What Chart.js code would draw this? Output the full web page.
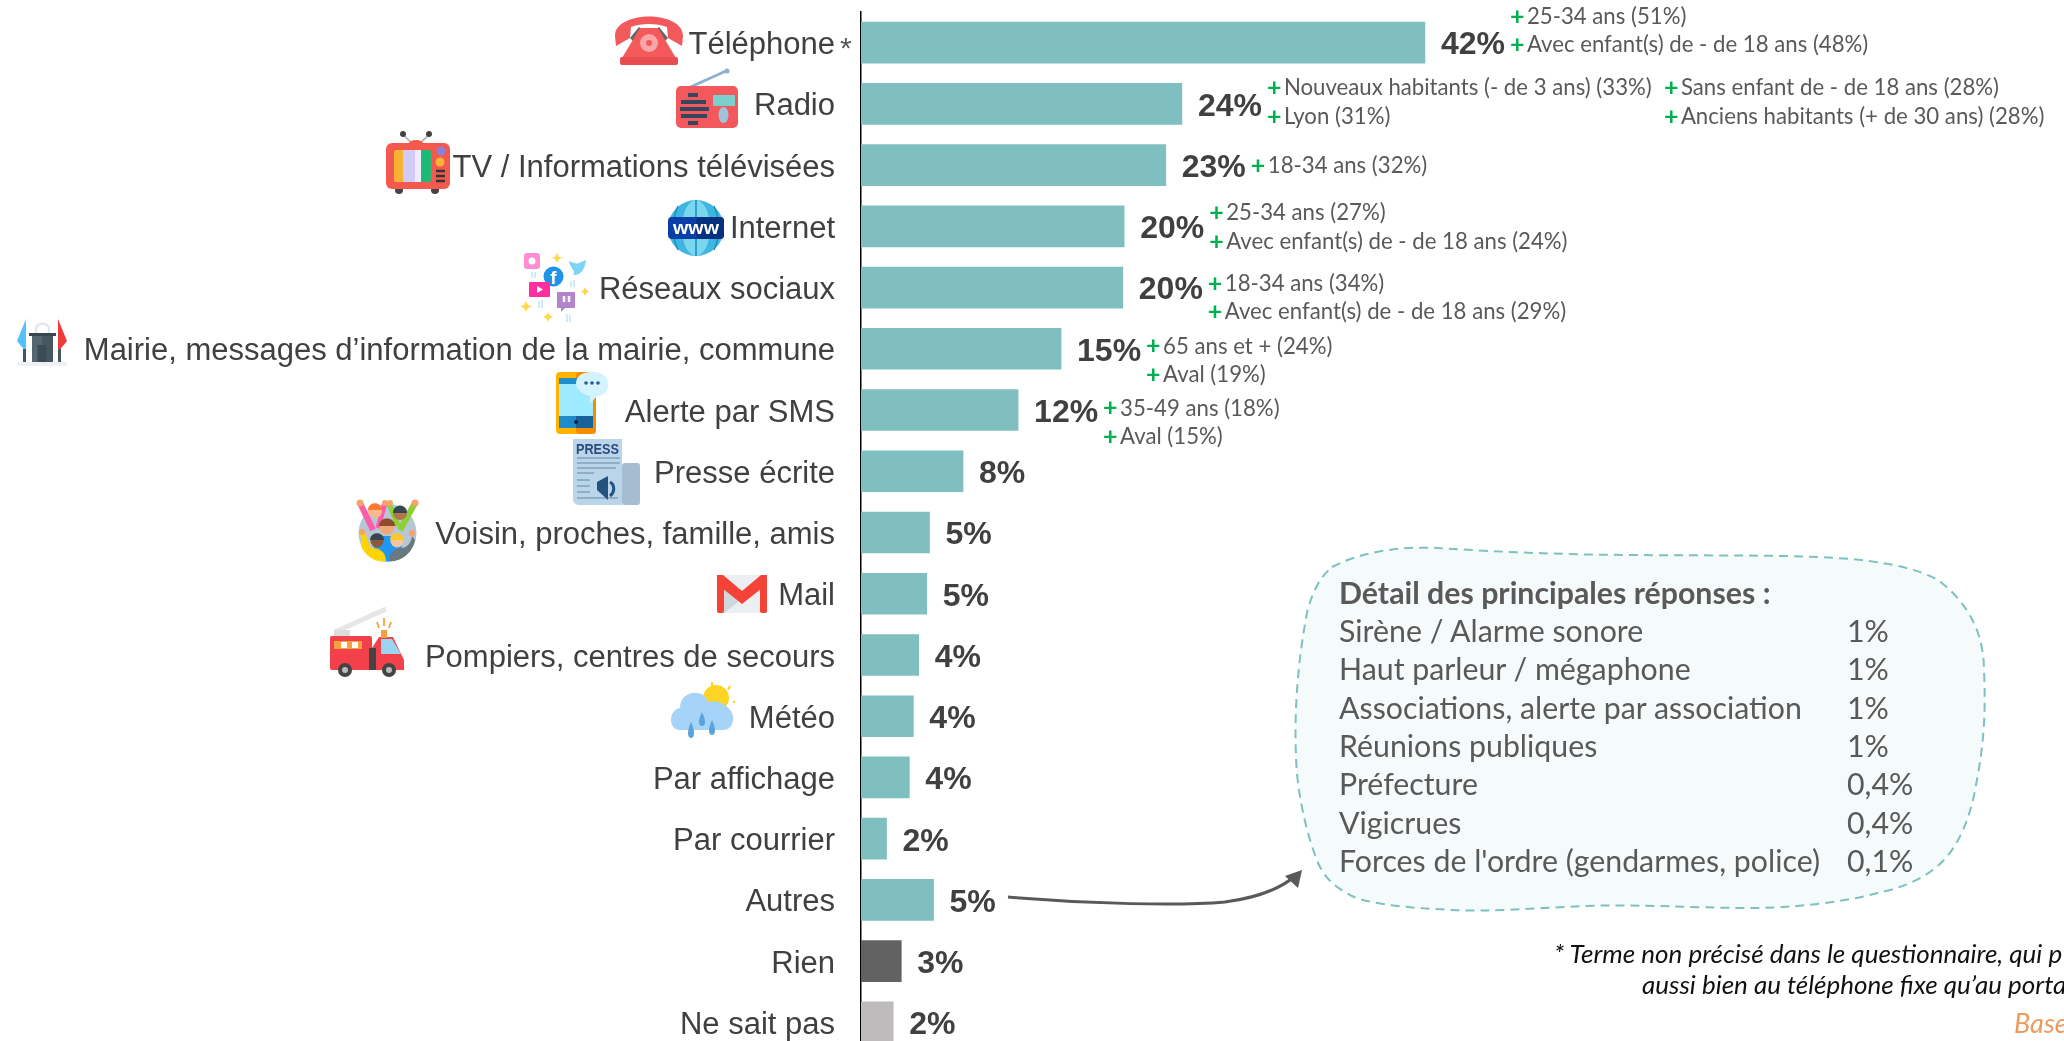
<!DOCTYPE html>
<html lang="fr">
<head>
<meta charset="utf-8">
<title>Moyens d'information</title>
<script src="https://cdn.jsdelivr.net/npm/chart.js@4"></script>
<style>
    html, body { margin: 0; padding: 0; background: #fff; width: 2064px; height: 1041px; overflow: hidden; }
    #chart { position: absolute; left: 0; top: 0; }
    #overlay { position: absolute; left: 0; top: 0; }
    #overlay text { font-family: Lato, sans-serif; }
</style>
</head>
<body>
<canvas id="chart" width="2064" height="1053"></canvas>
<svg id="overlay" width="2064" height="1041" viewBox="0 0 2064 1041" xmlns="http://www.w3.org/2000/svg">
    <!-- encadre de detail -->
    <path d="M1332 567 C1360 552 1400 546 1437 548 C1500 552 1570 555 1641 555 C1720 556 1800 554 1861 560 C1895 564 1920 570 1938 580 C1965 600 1984 630 1984 670 C1986 710 1984 745 1976 785 C1970 820 1958 845 1944 860 C1925 880 1900 888 1878 893 C1840 903 1790 908 1751 908 C1690 908 1640 904 1586 906 C1540 908 1490 912 1453 910 C1410 908 1375 905 1354 897 C1335 888 1325 878 1318 863 C1305 830 1297 790 1296 757 C1294 710 1298 660 1307 613 C1312 592 1320 577 1332 567 Z"
          fill="#F5FAFA" stroke="#7FC0C0" stroke-width="2" stroke-dasharray="9 6"/>
    <g id="detail"></g>
    <!-- fleche -->
    <path d="M1008 897 C1090 904 1180 906 1225 902 C1255 898 1280 889 1295 876" fill="none" stroke="#595959" stroke-width="3"/>
    <polygon points="1302,870 1298,888 1285,876" fill="#595959"/>
    <!-- notes -->
    <text x="1554" y="963" font-size="26" font-style="italic" fill="#111">* Terme non précisé dans le questionnaire, qui p</text>
    <text x="1642" y="994" font-size="26" font-style="italic" fill="#111">aussi bien au téléphone fixe qu’au porta</text>
    <text x="2014" y="1033" font-size="27" font-style="italic" fill="#EE9A5C">Base</text>

    <!-- Telephone -->
    <g transform="translate(615 16)">
        <path d="M0 20 C0 -6 68 -6 68 20 L67 30 L53 22 L52 11 C42 7 26 7 16 11 L15 22 L1 30 Z" fill="#F2595C"/>
        <path d="M15 22 L24 11 L27 13 L19 26 Z M53 22 L44 11 L41 13 L49 26 Z" fill="#666"/>
        <path d="M25 12 H43 L61 42 H7 Z" fill="#F4595C"/>
        <circle cx="34" cy="27" r="9" fill="#F9A6A8"/><circle cx="34" cy="27" r="3" fill="#F4595C"/>
        <rect x="5" y="41" width="58" height="8" rx="2" fill="#E84D50"/>
    </g>
    <!-- Radio -->
    <g transform="translate(676 68)">
        <path d="M10 21 L50 3" stroke="#8FB0CF" stroke-width="3"/><circle cx="51" cy="3" r="2.5" fill="#8FB0CF"/>
        <rect x="0" y="18" width="62" height="42" rx="5" fill="#F2595C"/>
        <path d="M12 27 H22 M5 34 H30 M4 41 H33 M5 48 H31 M12 55 H22" stroke="#34475F" stroke-width="4"/>
        <rect x="37" y="27" width="22" height="11" rx="1" fill="#7CD0CC"/>
        <ellipse cx="47.500" cy="47" rx="5" ry="8" fill="#9FC3DA"/>
    </g>
    <!-- TV -->
    <g transform="translate(386 130)">
        <path d="M17 5 L27 14 M43 5 L33 14" stroke="#bbb" stroke-width="2"/>
        <circle cx="17" cy="4" r="3" fill="#444"/><circle cx="43" cy="4" r="3" fill="#444"/>
        <ellipse cx="30" cy="15" rx="8" ry="5" fill="#F4594E"/>
        <circle cx="13" cy="60" r="4" fill="#444"/><circle cx="49" cy="60" r="4" fill="#444"/>
        <rect x="0" y="13" width="64" height="46" rx="6" fill="#F4594E"/>
        <rect x="8" y="20" width="10" height="32" rx="2" fill="#F9B233"/>
        <rect x="17" y="20" width="12" height="32" fill="#D0CCF5"/>
        <rect x="29" y="20" width="6" height="32" fill="#EDEBFD"/>
        <rect x="35" y="20" width="10" height="32" rx="2" fill="#1DB975"/>
        <circle cx="55" cy="21" r="4.500" fill="#8E7FD8"/><circle cx="54" cy="32" r="4.500" fill="#F9B233"/>
        <path d="M50 41 H59 M50 46 H59 M50 51 H59" stroke="#333" stroke-width="2.500"/>
    </g>
    <!-- Internet -->
    <g transform="translate(668 200)">
        <circle cx="28" cy="28" r="28" fill="#3FB6E0"/>
        <ellipse cx="28" cy="28" rx="14" ry="28" fill="#7AD6EC"/>
        <path d="M28 0 V56 M10 6 C4 18 4 38 10 50 M46 6 C52 18 52 38 46 50" stroke="#1B8FC0" stroke-width="1.500" fill="none"/>
        <rect x="0" y="17" width="56" height="22" rx="4" fill="#0B3FA8"/>
        <rect x="28" y="17" width="28" height="22" rx="4" fill="#07307F"/>
        <text x="28" y="34" text-anchor="middle" font-size="19" font-weight="700" fill="#fff" textLength="46" lengthAdjust="spacingAndGlyphs" style="font-family:'Liberation Sans'">www</text>
    </g>
    <!-- Reseaux sociaux -->
    <g>
        <rect x="524" y="253" width="16" height="16" rx="3" fill="#FF8ED0"/><circle cx="532" cy="261" r="3.500" fill="#fff"/>
        <circle cx="553.500" cy="276.500" r="10" fill="#1E93E8"/>
        <text x="553.500" y="284" text-anchor="middle" font-size="19" font-weight="700" fill="#fff" style="font-family:'Liberation Sans'">f</text>
        <path d="M569 261 C575 264 579 264 581 262 L586 260 C585 270 580 276 573 275 C577 272 570 268 569 261 Z" fill="#7FD4F5"/>
        <rect x="529" y="282" width="21" height="15" rx="1" fill="#FF2FA0"/><polygon points="537,286 537,293 543,289.500" fill="#fff"/>
        <path d="M557 292 H575 V308 H565 L561 312 V308 H557 Z" fill="#B184CC"/>
        <path d="M564 296 V302 M569 296 V302" stroke="#fff" stroke-width="2.500"/>
        <path d="M557 253 L559 257 L563 257.500 L559 259 L557 263 L555 259 L551 257.500 L555 257 Z M526 301 L528 305 L532 306.500 L528 308 L526 312 L524 308 L520 306.500 L524 305 Z M548 312 L549.500 315 L553 317 L549.500 318.500 L548 322 L546.500 318.500 L543 317 L546.500 315 Z M585 287 L586.500 290 L589 291.500 L586.500 293 L585 296 L583.500 293 L581 291.500 L583.500 290 Z" fill="#FFD84A"/>
        <path d="M532 272 V278 M535 272 V278 M574 280 V287 M571 281 V287 M539 301 V308 M542 300 V308 M567 314 V322 M570 315 V322" stroke="#CFEAFB" stroke-width="2"/>
    </g>
    <!-- Mairie -->
    <g>
        <rect x="17" y="362" width="50" height="4" fill="#EEF0F6"/>
        <polygon points="26,319 17,341 26,352" fill="#54C1FF"/>
        <polygon points="58,319 67,341 58,352" fill="#EE3B3B"/>
        <rect x="23" y="349" width="3" height="13" fill="#46575F"/><rect x="58" y="349" width="3" height="13" fill="#46575F"/>
        <path d="M36 333 V329 C36 322 49 322 49 329 V333" stroke="#E6E6EA" stroke-width="2.500" fill="none"/>
        <rect x="29" y="333" width="27" height="3" fill="#37474F"/>
        <rect x="32" y="336" width="21" height="26" fill="#546670"/><rect x="42" y="336" width="11" height="26" fill="#46575F"/>
        <rect x="37.500" y="345" width="9" height="17" fill="#3C4C54"/>
    </g>
    <!-- SMS -->
    <g>
        <rect x="556" y="372" width="40" height="62" rx="4" fill="#FFB300"/>
        <rect x="576" y="372" width="20" height="62" rx="4" fill="#F58C00"/>
        <rect x="559" y="378" width="34" height="50" fill="#9EEBFF"/>
        <rect x="559" y="378" width="34" height="6" fill="#1F8FCC"/>
        <rect x="559" y="416" width="34" height="12" fill="#1E8BCB"/><rect x="576" y="416" width="17" height="12" fill="#15639A"/>
        <circle cx="576" cy="422" r="2" fill="#123"/>
        <path d="M592 372 C604 372 609 378 608 386 C607 393 602 396 597 396 L590 404 L590 396 C580 394 576 388 576 384 C576 376 582 372 592 372 Z" fill="#D2F3FF"/>
        <circle cx="586" cy="383" r="1.800" fill="#2A5D8F"/><circle cx="592" cy="383" r="1.800" fill="#2A5D8F"/><circle cx="598" cy="383" r="1.800" fill="#2A5D8F"/>
    </g>
    <!-- Presse -->
    <g>
        <rect x="622" y="463" width="18" height="42" rx="3" fill="#A5BDD0"/>
        <path d="M573 439 H622 V503 C622 505 624 505 624 505 H580 C576 505 573 503 573 499 Z" fill="#BAD5E9"/>
        <text x="576" y="454" font-size="15" font-weight="700" fill="#2B4C7E" textLength="43" lengthAdjust="spacingAndGlyphs" style="font-family:'Liberation Sans'">PRESS</text>
        <path d="M577 458 H620 M577 463 H620 M577 468 H616 M577 473 H594 M577 480 H590 M577 486 H590 M577 492 H590 M577 498 H618" stroke="#8FAFC6" stroke-width="2"/>
        <path d="M597 482 L608 476 V500 L597 490 Z" fill="#24527F"/><path d="M610 482 C615 485 615 492 610 496" stroke="#24527F" stroke-width="3" fill="none"/>
    </g>
    <!-- Voisin -->
    <g>
        <circle cx="387.500" cy="533" r="29" fill="#B6C6D5"/>
        <path d="M360 503 L373 530" stroke="#FF5BA8" stroke-width="6"/>
        <path d="M415 503 L400 530" stroke="#8CD033" stroke-width="6"/>
        <path d="M385 503 L378 528" stroke="#FF5BA8" stroke-width="5"/>
        <path d="M389 503 L398 526" stroke="#8CD033" stroke-width="5"/>
        <circle cx="360" cy="503" r="3.500" fill="#F5A36B"/><circle cx="415" cy="503" r="3.500" fill="#F5A36B"/><circle cx="385" cy="503" r="3" fill="#F5A36B"/><circle cx="390" cy="503" r="3" fill="#F5A36B"/>
        <circle cx="375" cy="511" r="7" fill="#F7B98E"/><path d="M368 510 C368 501 382 501 382 510 Z" fill="#FF7A2F"/>
        <circle cx="400" cy="513" r="7" fill="#B0764E"/><path d="M393 513 C393 503 407 503 407 513 Z" fill="#37474F"/>
        <path d="M373 556 L375 536 H400 L403 556 C396 563 380 563 373 556 Z" fill="#2196F3"/>
        <circle cx="387" cy="527" r="7.500" fill="#EFA878"/><path d="M379 526 C379 516 395 516 395 526 Z" fill="#8D4A2C"/>
        <path d="M361 537 C364 545 368 548 372 548 C380 548 386 552 386 561 C376 563 366 557 361 546 Z" fill="#FFD400"/>
        <path d="M362 533 L368 548" stroke="#FFD400" stroke-width="5"/><circle cx="362" cy="532" r="3" fill="#F5A36B"/>
        <path d="M389 561 C389 553 394 548 402 548 C406 548 411 544 412 536 L415 540 C413 552 402 562 389 561 Z" fill="#6A7880"/>
        <circle cx="412" cy="533" r="3" fill="#F5A36B"/>
        <circle cx="377" cy="541" r="6.500" fill="#8A5A3B"/><path d="M370 540 C370 531 384 531 384 540 Z" fill="#37474F"/>
        <circle cx="397" cy="541" r="6.500" fill="#F7C6A0"/><path d="M390 540 C390 531 404 531 404 540 Z" fill="#FFC72C"/>
    </g>
    <!-- Mail -->
    <g transform="translate(717 575)">
        <rect x="0" y="0" width="50" height="38" rx="2" fill="#ECEFF1"/>
        <polygon points="7,38 7,9 25,24 43,10 7,38" fill="#CFD8DC"/>
        <polygon points="0,0 6,0 25,16 44,0 50,0 50,9 25,29 0,9" fill="#F44336"/>
        <rect x="0" y="2" width="7" height="36" rx="2" fill="#F44336"/><rect x="43" y="2" width="7" height="36" rx="2" fill="#F44336"/>
    </g>
    <!-- Pompiers -->
    <g>
        <path d="M335 632 L386 609" stroke="#E6E6E6" stroke-width="5"/>
        <rect x="334" y="630" width="16" height="8" fill="#DCDCDC"/>
        <rect x="330" y="636" width="42" height="34" rx="2" fill="#F2414B"/>
        <path d="M334 641 H362 V649 H334 Z" fill="#F9A03C"/>
        <rect x="341" y="642" width="6" height="6" fill="#fff"/><rect x="352" y="642" width="6" height="6" fill="#fff"/>
        <path d="M372 648 L379 637 H393 L404 660 V670 H372 Z" fill="#F2414B"/>
        <path d="M381 639 H392 L401 654 H381 Z" fill="#9AD4F0"/>
        <rect x="369" y="648" width="7" height="22" fill="#444"/>
        <rect x="381" y="630" width="6" height="8" fill="#F9A03C"/>
        <path d="M377 622 L379 628 M384 618 V626 M391 622 L389 628" stroke="#F9A03C" stroke-width="1.800"/>
        <circle cx="345" cy="670" r="7" fill="#444"/><circle cx="345" cy="670" r="3" fill="#bbb"/>
        <circle cx="389" cy="670" r="7" fill="#444"/><circle cx="389" cy="670" r="3" fill="#bbb"/>
    </g>
    <!-- Meteo -->
    <g>
        <circle cx="716" cy="698" r="13" fill="#FFD324"/>
        <path d="M712 682 V686 M730 686 L728 690 M735 702 H733" stroke="#FFD324" stroke-width="2"/>
        <path d="M680 730 C668 730 668 710 680 708 C680 690 704 688 708 702 C722 698 738 712 732 724 C730 730 724 730 720 730 Z" fill="#A6D4F8"/>
        <path d="M702 712 C698 720 698 726 702 726 C706 726 706 720 702 712 Z M691 722 C687 730 687 738 691 738 C695 738 695 730 691 722 Z M712 720 C708 728 708 735 712 735 C716 735 716 728 712 720 Z" fill="#5BA3DD"/>
    </g>
</svg>
<script>
// valeurs
const categories = ['Téléphone', 'Radio', 'TV / Informations télévisées', 'Internet', 'Réseaux sociaux',
    'Mairie, messages d’information de la mairie, commune', 'Alerte par SMS', 'Presse écrite',
    'Voisin, proches, famille, amis', 'Mail', 'Pompiers, centres de secours', 'Météo', 'Par affichage',
    'Par courrier', 'Autres', 'Rien', 'Ne sait pas'];
const values = [42, 23.9, 22.7, 19.6, 19.5, 14.9, 11.7, 7.6, 5.1, 4.9, 4.3, 3.9, 3.6, 1.9, 5.4, 3.0, 2.4];
const subLabels = [
    ['25-34 ans (51%)', 'Avec enfant(s) de - de 18 ans (48%)'],
    ['Nouveaux habitants (- de 3 ans) (33%)', 'Lyon (31%)'],
    ['18-34 ans (32%)'],
    ['25-34 ans (27%)', 'Avec enfant(s) de - de 18 ans (24%)'],
    ['18-34 ans (34%)', 'Avec enfant(s) de - de 18 ans (29%)'],
    ['65 ans et + (24%)', 'Aval (19%)'],
    ['35-49 ans (18%)', 'Aval (15%)']
];
const radioSecondColumn = ['Sans enfant de - de 18 ans (28%)', 'Anciens habitants (+ de 30 ans) (28%)'];
const detailLabels = ['Sirène / Alarme sonore', 'Haut parleur / mégaphone', 'Associations, alerte par association',
    'Réunions publiques', 'Préfecture', 'Vigicrues', 'Forces de l\'ordre (gendarmes, police)'];
const detailValues = ['1%', '1%', '1%', '1%', '0,4%', '0,4%', '0,1%'];

// decalage vertical de la premiere ligne de sous-libelles, par rapport au centre de la barre
const subLabelShift = [-26, -16, 1, -13, -4, -2.4, -1.6];

const TEAL = '#7FBFC0';
const SUB_FONT = '22.2px Lato, sans-serif';

function drawSubLabel(ctx, x, y, text) {
    ctx.fillStyle = '#00B050';
    ctx.font = 'bold 25px Lato, sans-serif';
    ctx.textAlign = 'left';
    ctx.textBaseline = 'middle';
    ctx.fillText('+', x, y);
    ctx.fillStyle = '#595959';
    ctx.font = SUB_FONT;
    ctx.fillText(text, x + 17, y);
}

const barNotes = {
    id: 'barNotes',
    afterDatasetsDraw(chart) {
        const ctx = chart.ctx;
        const bars = chart.getDatasetMeta(0).data;
        ctx.save();
        bars.forEach((bar, i) => {
            ctx.fillStyle = '#404040';
            ctx.font = 'bold 32px "Liberation Sans", Arial, sans-serif';
            ctx.textAlign = 'left';
            ctx.textBaseline = 'middle';
            ctx.fillText(Math.round(values[i]) + '%', bar.x + 16, bar.y + 3);

            (subLabels[i] || []).forEach((txt, l) => {
                drawSubLabel(ctx, bar.x + 85, bar.y + subLabelShift[i] + l * 28.7, txt);
            });
        });
        radioSecondColumn.forEach((txt, l) => {
            drawSubLabel(ctx, bars[1].x + 482, bars[1].y + subLabelShift[1] + l * 28.7, txt);
        });
        // asterisque apres Telephone
        ctx.fillStyle = '#595959';
        ctx.font = '30px "Liberation Sans", sans-serif';
        ctx.textAlign = 'left';
        ctx.fillText('*', 840, bars[0].y + 7);
        ctx.restore();
    }
};

new Chart(document.getElementById('chart'), {
    type: 'bar',
    data: {
        labels: categories,
        datasets: [{
            data: values,
            barThickness: 41,
            backgroundColor: ctx => ctx.dataIndex === 15 ? '#626262' : ctx.dataIndex === 16 ? '#BDBBBC' : TEAL
        }]
    },
    options: {
        indexAxis: 'y',
        responsive: false,
        animation: false,
        layout: { padding: { top: 12 } },
        plugins: { legend: { display: false }, tooltip: { enabled: false } },
        scales: {
            x: { display: false, min: 0, max: 89.6 },
            y: {
                afterFit: scale => {
                    scale.width = 861;
                    scale.paddingTop = 0;
                    scale.paddingBottom = 0;
                },
                grid: { display: false, drawTicks: false },
                border: { display: true, color: '#000', width: 1.5 },
                ticks: {
                    autoSkip: false,
                    padding: 26,
                    color: '#404040',
                    // ligne vide devant le libelle : descend le texte de 3px
                    callback: (v, i) => ['', categories[i]],
                    font: { family: '"Liberation Sans", Arial, sans-serif', size: 31, lineHeight: '6px' }
                }
            }
        }
    },
    plugins: [barNotes]
});

// texte de l'encadre
const detail = document.getElementById('detail');
function addText(x, y, str, bold) {
    const t = document.createElementNS('http://www.w3.org/2000/svg', 'text');
    t.setAttribute('x', x);
    t.setAttribute('y', y);
    t.setAttribute('font-size', 30.3);
    t.setAttribute('fill', '#595959');
    if (bold) t.setAttribute('font-weight', 700);
    t.textContent = str;
    detail.appendChild(t);
}
addText(1339, 604, 'Détail des principales réponses :', true);
detailLabels.forEach((lab, i) => {
    addText(1339, 642 + i * 38.3, lab);
    addText(1847, 642 + i * 38.3, detailValues[i]);
});
</script>
</body>
</html>
